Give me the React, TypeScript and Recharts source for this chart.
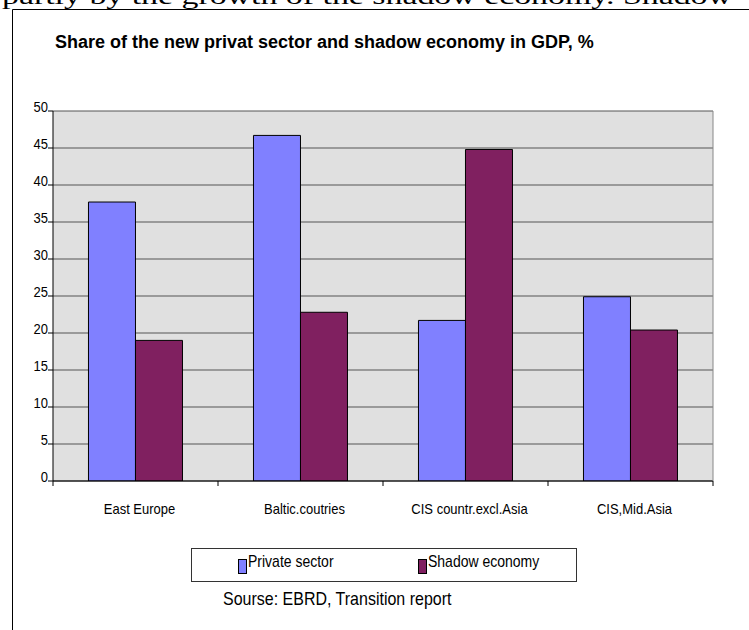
import { BarChart, Bar, XAxis, YAxis, CartesianGrid, Legend } from 'recharts';

// values
const categories = ['East Europe', 'Baltic.coutries', 'CIS countr.excl.Asia', 'CIS,Mid.Asia'];
const privateSector = [37.7, 46.7, 21.7, 24.9];
const shadowEconomy = [19.0, 22.8, 44.8, 20.4];
const yTicks = [0, 5, 10, 15, 20, 25, 30, 35, 40, 45, 50];

const data = categories.map((name, i) => ({
    name,
    privateSector: privateSector[i],
    shadowEconomy: shadowEconomy[i],
}));

const FONT = '"Liberation Sans", Arial, sans-serif';
const STRETCH = 1.15; // text in the original looks a bit tall
const LABEL_GAP = 33; // axis line -> baseline of category labels

// category label + the small tick marks that sit between the groups
const XTick = ({ x, y, payload, index }: any) => {
    const half = payload?.offset ?? 0;
    const axisY = y - LABEL_GAP;
    return (
        <g>
            <line x1={x - half} x2={x - half} y1={axisY} y2={axisY + 5} stroke="#000" />
            {index === categories.length - 1 && (
                <line x1={x + half} x2={x + half} y1={axisY} y2={axisY + 5} stroke="#000" />
            )}
            <g transform={`translate(${x + 4},${y}) scale(1,${STRETCH})`}>
                <text x={0} y={0} textAnchor="middle" fontFamily={FONT} fontSize={13} fill="#000">
                    {payload.value}
                </text>
            </g>
        </g>
    );
};

const YTick = ({ x, y, payload }: any) => (
    <g transform={`translate(${x},${y + 1}) scale(1,${STRETCH})`}>
        <text x={0} y={0} textAnchor="end" fontFamily={FONT} fontSize={13} fill="#000">
            {payload.value}
        </text>
    </g>
);

const LegendBox = ({ payload }: any) => (
    <svg width={386} height={34} style={{ display: 'block' }}>
        <rect x={0.5} y={0.5} width={385} height={33} fill="#fff" stroke="#333" />
        {(payload || []).map((p: any, i: number) => (
            <g key={p.value} transform={`translate(${47 + i * 180},0)`}>
                <rect x={0.5} y={11.5} width={8} height={14} fill={p.color} stroke="#000" />
                <g transform={`translate(10,19) scale(1,${STRETCH})`}>
                    <text x={0} y={0} fontFamily={FONT} fontSize={14} fill="#000">
                        {p.value}
                    </text>
                </g>
            </g>
        ))}
    </svg>
);

export default function App() {
    return (
        <div style={{ position: 'absolute', left: 0, top: 0, width: 749, height: 630, overflow: 'hidden', background: '#fff' }}>
            <svg width={749} height={630} style={{ position: 'absolute', left: 0, top: 0 }}>
                <text x={2} y={4} fontFamily='"Liberation Serif", "Times New Roman", serif' fontSize={24} textLength={730} lengthAdjust="spacingAndGlyphs" fill="#000">
                    partly by the growth of the shadow economy. Shadow
                </text>
                <path d="M12.5 630 V9.5 H749" fill="none" stroke="#000" />
                <text x={55} y={48} fontFamily={FONT} fontSize={18} fontWeight="bold" fill="#000">
                    Share of the new privat sector and shadow economy in GDP, %
                </text>
                <g transform={`translate(223,605) scale(1,${STRETCH})`}>
                    <text x={0} y={0} fontFamily={FONT} fontSize={16} fill="#000">
                        Sourse: EBRD, Transition report
                    </text>
                </g>
            </svg>
            <div style={{ position: 'absolute', left: 0, top: 0 }}>
                <BarChart
                    width={749}
                    height={630}
                    data={data}
                    margin={{ top: 111, right: 35, left: 0, bottom: 74 }}
                    barGap={0}
                    barCategoryGap="21.5%"
                >
                    <CartesianGrid xAxisId="cat" yAxisId="left" vertical={false} fill="#e0e0e0" stroke="#555" />
                    <XAxis
                        xAxisId="cat"
                        dataKey="name"
                        height={41}
                        interval={0}
                        axisLine={{ stroke: '#000' }}
                        tickLine={false}
                        tickSize={0}
                        tickMargin={LABEL_GAP}
                        tick={<XTick />}
                    />
                    <YAxis
                        yAxisId="left"
                        domain={[0, 50]}
                        ticks={yTicks}
                        interval={0}
                        allowDataOverflow
                        width={53}
                        tickSize={5}
                        tickMargin={0}
                        axisLine={{ stroke: '#000' }}
                        tickLine={{ stroke: '#000' }}
                        tick={<YTick />}
                    />
                    <YAxis
                        yAxisId="right"
                        orientation="right"
                        domain={[0, 50]}
                        width={1}
                        tick={false}
                        tickLine={false}
                        axisLine={{ stroke: '#888' }}
                    />
                    <Legend
                        wrapperStyle={{ left: 191, top: 548, right: 'auto', bottom: 'auto', width: 386, height: 34 }}
                        content={<LegendBox />}
                    />
                    <Bar
                        xAxisId="cat"
                        yAxisId="left"
                        dataKey="privateSector"
                        name="Private sector"
                        fill="#8080ff"
                        stroke="#000"
                        strokeWidth={1}
                        isAnimationActive={false}
                    />
                    <Bar
                        xAxisId="cat"
                        yAxisId="left"
                        dataKey="shadowEconomy"
                        name="Shadow economy"
                        fill="#802060"
                        stroke="#000"
                        strokeWidth={1}
                        isAnimationActive={false}
                    />
                </BarChart>
            </div>
        </div>
    );
}
